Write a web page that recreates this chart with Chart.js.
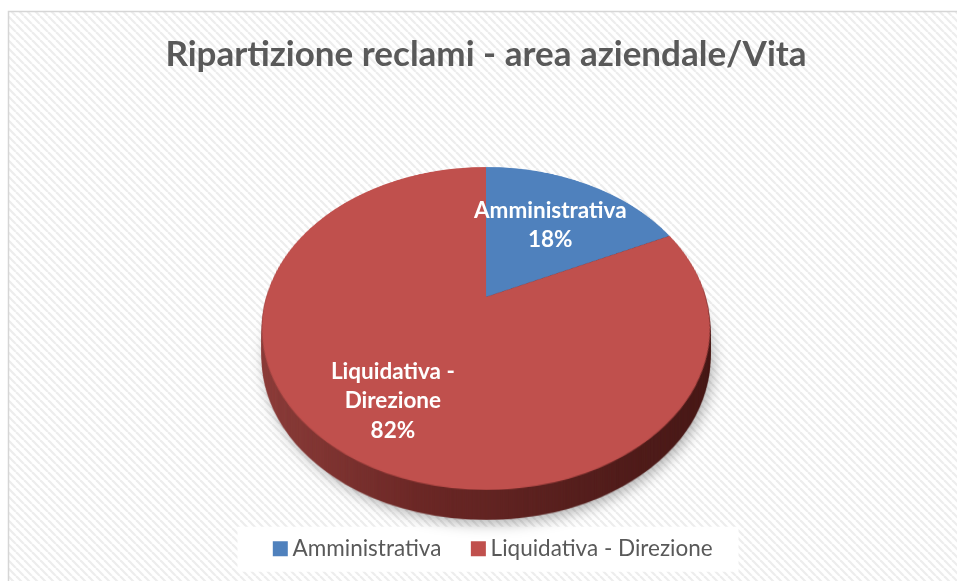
<!DOCTYPE html>
<html><head><meta charset="utf-8">
<script src="https://cdn.jsdelivr.net/npm/chart.js@4/dist/chart.umd.min.js"></script>
<style>html,body{margin:0;padding:0;background:#fff;overflow:hidden}#wrap{width:957px;height:581px;position:relative}</style>
</head><body><div id="wrap"><canvas id="c" width="957" height="581"></canvas></div>
<script>
// ---- data ----
const categories = ['Amministrativa', 'Liquidativa - Direzione'];
const labelLines = [['Amministrativa'], ['Liquidativa -', 'Direzione']];
const values = [18, 82];
const colors = ['#4f81bd', '#c0504d'];
const titleText = 'Ripartizione reclami - area aziendale/Vita';

// ---- style / perspective settings ----
const P = {cy: 297, a: 219.7, b: 155.4, c: 0.195, depth: 30};
const labelRadius = [0.6, 0.7];
const legendShift = 10;

function warpPoint(cx, u, v) { const w = 1 - P.c * v; return {x: cx + P.a * u / w, y: P.cy + P.b * v / w}; }

function makePattern(ctx) {
  const t = document.createElement('canvas'); t.width = 8; t.height = 8;
  const g = t.getContext('2d');
  g.fillStyle = '#ffffff'; g.fillRect(0, 0, 8, 8);
  g.strokeStyle = '#ededed'; g.lineWidth = 2.2;
  [-8, 0, 8].forEach(o => { g.beginPath(); g.moveTo(o, 0); g.lineTo(o + 8, 8); g.stroke(); });
  return ctx.createPattern(t, 'repeat');
}

const pie3d = {
  id: 'pie3d',
  afterLayout(chart) {
    if (chart.legend) { chart.legend.left += legendShift; chart.legend.right += legendShift; }
  },
  beforeDraw(chart) {
    const ctx = chart.ctx, W = chart.width, H = chart.height;
    ctx.save();
    ctx.fillStyle = '#ffffff'; ctx.fillRect(0, 0, W, H);
    ctx.fillStyle = makePattern(ctx); ctx.fillRect(8, 11, W - 8, H - 11);
    ctx.strokeStyle = '#d6d6d6'; ctx.lineWidth = 1.5;
    ctx.beginPath(); ctx.moveTo(8.5, H); ctx.lineTo(8.5, 11.5); ctx.lineTo(W, 11.5); ctx.stroke();
    // legend background
    const lg = chart.legend;
    if (lg && lg.legendHitBoxes && lg.legendHitBoxes.length) {
      const hb = lg.legendHitBoxes;
      const cy = hb[0].top + hb[0].height / 2;
      const cx = (chart.chartArea.left + chart.chartArea.right) / 2 + 1.5;
      ctx.fillStyle = '#ffffff';
      ctx.fillRect(cx - 250, cy - 22, 501, 45);
    }
    ctx.restore();
  },
  beforeDatasetsDraw(chart) {
    const ctx = chart.ctx;
    const meta = chart.getDatasetMeta(0);
    const els = meta.data;
    const R = els[0].outerRadius, sx = els[0].x, sy = els[0].y;
    const S = Math.ceil(2 * R) + 4;
    const src = document.createElement('canvas'); src.width = S; src.height = S;
    const sc = src.getContext('2d');
    sc.translate(S / 2 - sx, S / 2 - sy);
    els.forEach(el => el.draw(sc));
    const W = chart.width, H = chart.height;
    const top = document.createElement('canvas'); top.width = W; top.height = H;
    const tc = top.getContext('2d');
    const yTop = P.cy - P.b / (1 + P.c), yBot = P.cy + P.b / (1 - P.c);
    for (let y = Math.floor(yTop); y < Math.ceil(yBot); y++) {
      const t = (y + 0.5 - P.cy) / P.b;
      const v = t / (1 + P.c * t);
      if (v < -1 || v > 1) continue;
      const w = 1 - P.c * v;
      const k = P.a / (w * R);
      let srcY = S / 2 + v * R - 0.5;
      srcY = Math.max(0, Math.min(S - 1, srcY));
      tc.drawImage(src, 0, srcY, S, 1, sx - (S / 2) * k, y, S * k, 1);
    }
    // side
    const side = document.createElement('canvas'); side.width = W; side.height = H;
    const sd = side.getContext('2d');
    sd.drawImage(top, 0, 0);
    sd.globalCompositeOperation = 'source-in';
    const g = sd.createLinearGradient(sx - P.a * 1.02, 0, sx + P.a * 1.02, 0);
    g.addColorStop(0, '#8c3d3a');
    g.addColorStop(0.35, '#6c2826');
    g.addColorStop(0.7, '#561f1d');
    g.addColorStop(1, '#481917');
    sd.fillStyle = g; sd.fillRect(0, 0, W, H);
    ctx.save();
    ctx.shadowColor = 'rgba(0,0,0,0.3)'; ctx.shadowBlur = 14; ctx.shadowOffsetX = 3; ctx.shadowOffsetY = 4;
    ctx.drawImage(side, 0, P.depth);
    ctx.restore();
    for (let d = P.depth - 1; d >= 1; d--) ctx.drawImage(side, 0, d);
    ctx.drawImage(top, 0, 0);
    // labels
    const total = values.reduce((s, x) => s + x, 0);
    ctx.save();
    ctx.fillStyle = '#ffffff'; ctx.font = 'bold 22.5px Lato'; ctx.textAlign = 'center'; ctx.textBaseline = 'middle';
    els.forEach((el, i) => {
      const mid = (el.startAngle + el.endAngle) / 2;
      const r = labelRadius[i];
      const p = warpPoint(sx, r * Math.cos(mid), r * Math.sin(mid));
      const lines = [...labelLines[i], Math.round(values[i] / total * 100) + '%'];
      const lh = 29.5;
      lines.forEach((s, j) => ctx.fillText(s, p.x, p.y + (j - (lines.length - 1) / 2) * lh));
    });
    ctx.restore();
    return false;
  }
};

Chart.defaults.font.family = 'Lato';
new Chart(document.getElementById('c'), {
  type: 'pie',
  data: { labels: categories, datasets: [{ data: values, backgroundColor: colors, borderWidth: 0 }] },
  options: {
    responsive: false, animation: false,
    layout: { padding: { left: 15, top: 11, bottom: 11 } },
    plugins: {
      title: { display: true, text: titleText, color: '#595959', font: { size: 35, weight: 'bold', family: 'Lato' }, padding: { top: 23, bottom: 10 } },
      legend: { position: 'bottom', labels: { usePointStyle: true, pointStyle: 'rect', boxWidth: 2, boxHeight: 15, color: '#595959', font: { size: 22.5, family: 'Lato' }, padding: 36 } },
      tooltip: { enabled: false }
    }
  },
  plugins: [pie3d]
});
</script></body></html>
